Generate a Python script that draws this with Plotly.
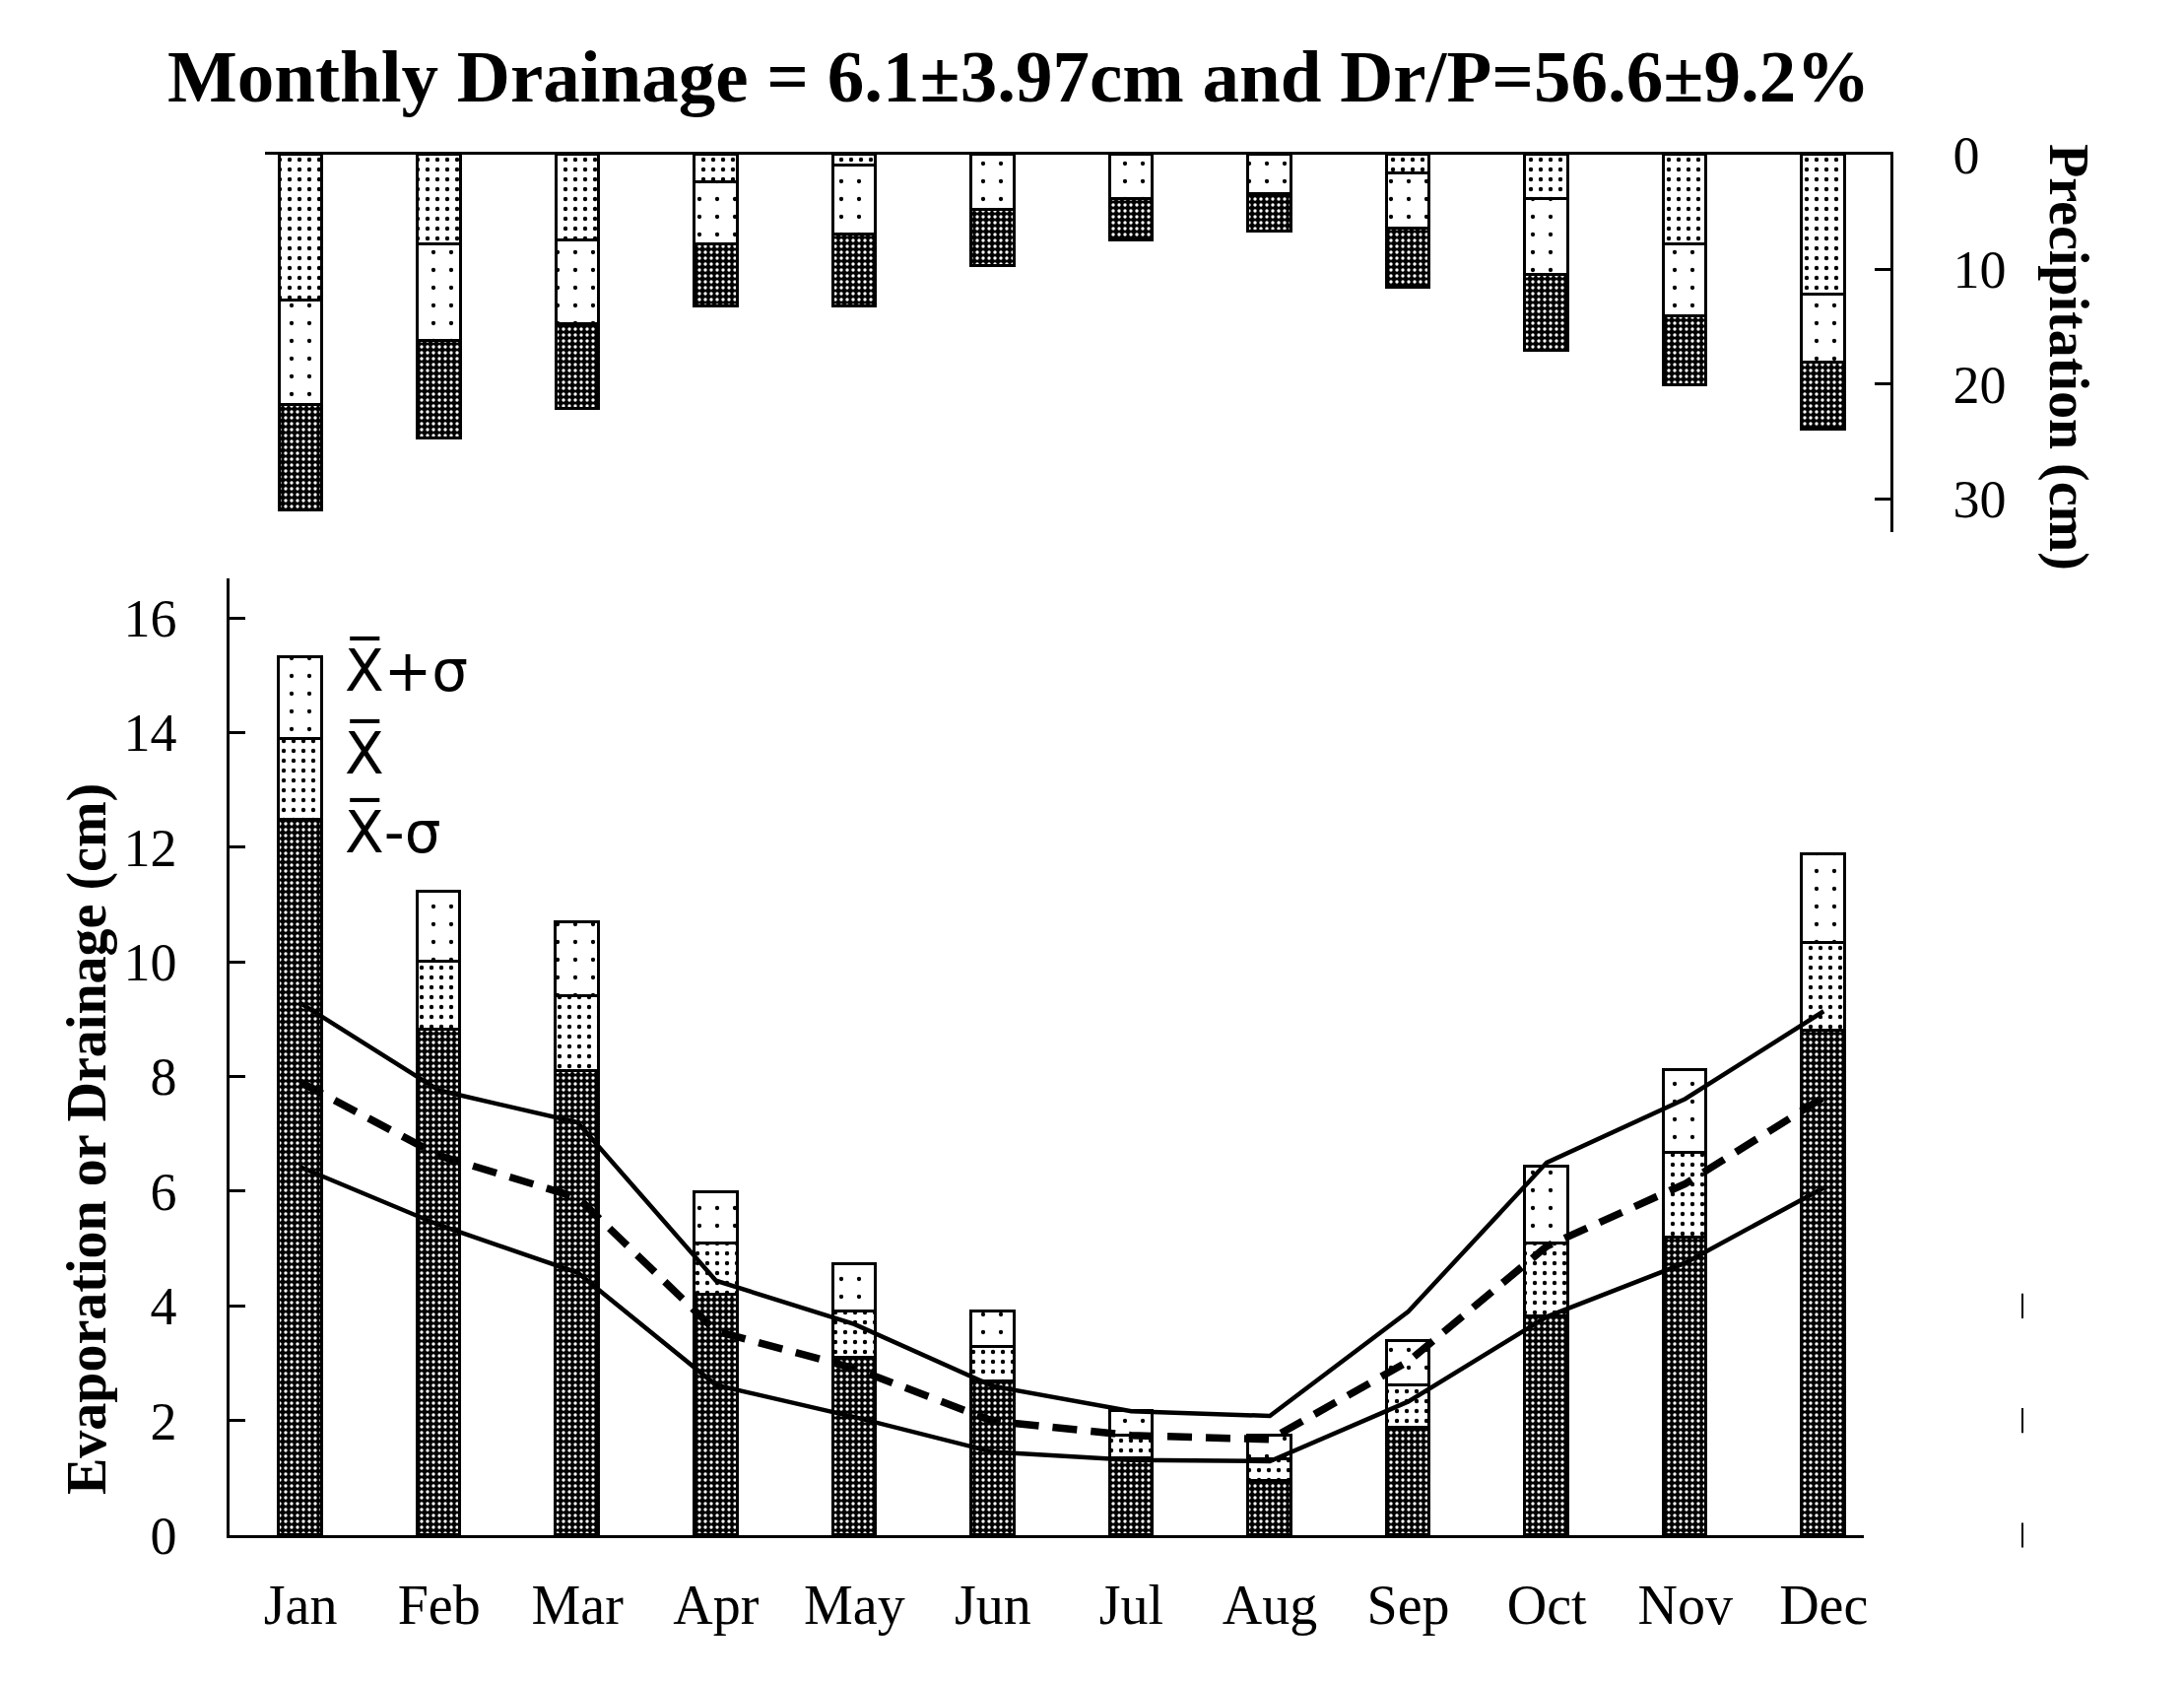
import plotly.graph_objects as go

W, H = 2217, 1706
OFF = 8  # default page body margin in the browser

months = ["Jan", "Feb", "Mar", "Apr", "May", "Jun", "Jul", "Aug", "Sep", "Oct", "Nov", "Dec"]
xpos = list(range(12))

# Bottom panel: evaporation bars (cumulative tops of each segment)
evap_lo = [12.48, 8.82, 8.10, 4.19, 3.10, 2.69, 1.34, 0.95, 1.87, 3.81, 5.19, 8.80]   # X-sigma
evap_mean = [13.89, 10.01, 9.41, 5.09, 3.90, 3.28, 1.73, 1.33, 2.62, 5.09, 6.67, 10.33]  # X
evap_hi = [15.32, 11.22, 10.69, 5.99, 4.73, 3.90, 2.17, 1.74, 3.39, 6.42, 8.12, 11.88]  # X+sigma

# Bottom panel: drainage lines
drain_hi = [9.28, 7.76, 7.20, 4.44, 3.68, 2.60, 2.16, 2.08, 3.90, 6.50, 7.61, 9.14]
drain_mean = [7.90, 6.62, 5.89, 3.56, 2.91, 1.99, 1.74, 1.67, 3.03, 5.04, 6.13, 7.64]
drain_lo = [6.42, 5.41, 4.58, 2.62, 2.06, 1.45, 1.31, 1.29, 2.33, 3.81, 4.75, 6.06]

# Top panel: precipitation (cumulative depths from 0)
prec_1 = [12.7, 7.8, 7.5, 2.4, 0.97, 0.0, 0.0, 0.0, 1.6, 3.9, 7.8, 12.2]
prec_2 = [21.8, 16.2, 14.8, 7.8, 7.0, 4.85, 3.9, 3.4, 6.4, 10.5, 14.1, 18.1]
prec_3 = [31.0, 24.7, 22.2, 13.2, 13.2, 9.7, 7.5, 6.7, 11.6, 17.1, 20.1, 24.0]

ytick_bottom = [0, 2, 4, 6, 8, 10, 12, 14, 16]
ytick_top = [0, 10, 20, 30]

# stray tick marks at the far right of the reference
stray_y = [0, 2, 4]

SERIF = "Liberation Serif"
SANS = "DejaVu Sans"

def diff(a, b):
    return [x - y for x, y in zip(a, b)]

dark = dict(shape=".", bgcolor="black", fgcolor="white", size=6, solidity=0.25, fillmode="replace")
dense = dict(shape=".", bgcolor="white", fgcolor="black", size=10, solidity=0.15, fillmode="replace")
sparse = dict(shape=".", bgcolor="white", fgcolor="black", size=18, solidity=0.045, fillmode="replace")

BW = 0.31
LINE = dict(color="black", width=2.8)

fig = go.Figure()

for vals, pat, col in [(evap_lo, dark, "black"),
                       (diff(evap_mean, evap_lo), dense, "white"),
                       (diff(evap_hi, evap_mean), sparse, "white")]:
    fig.add_trace(go.Bar(x=xpos, y=vals, width=BW, xaxis="x", yaxis="y",
                         marker=dict(color=col, pattern=pat, line=LINE),
                         showlegend=False))

for vals, pat, col in [(prec_1, dense, "white"),
                       (diff(prec_2, prec_1), sparse, "white"),
                       (diff(prec_3, prec_2), dark, "black")]:
    fig.add_trace(go.Bar(x=xpos, y=vals, width=BW, xaxis="x2", yaxis="y2",
                         marker=dict(color=col, pattern=pat, line=LINE),
                         showlegend=False))

fig.add_trace(go.Scatter(x=xpos, y=drain_hi, mode="lines", xaxis="x", yaxis="y",
                         line=dict(color="black", width=4.5), showlegend=False))
fig.add_trace(go.Scatter(x=xpos, y=drain_mean, mode="lines", xaxis="x", yaxis="y",
                         line=dict(color="black", width=7.5, dash="25px,14px"), showlegend=False))
fig.add_trace(go.Scatter(x=xpos, y=drain_lo, mode="lines", xaxis="x", yaxis="y",
                         line=dict(color="black", width=4.5), showlegend=False))

fig.add_trace(go.Scatter(x=[0.5] * len(stray_y), y=stray_y, mode="markers", xaxis="x3", yaxis="y",
                         marker=dict(symbol="line-ns", size=18, line=dict(color="black", width=2)),
                         cliponaxis=False, showlegend=False))

def px_x(p):
    return (p - OFF) / W

def px_y(p):
    return 1 - (p - OFF) / H

fig.update_layout(
    template="none",
    width=W, height=H,
    margin=dict(l=0, r=0, t=0, b=0, pad=0),
    paper_bgcolor="white", plot_bgcolor="rgba(0,0,0,0)",
    barmode="stack", bargap=0,
    font=dict(family=SERIF, color="black"),
    xaxis=dict(domain=[px_x(233), px_x(1892)], range=[-0.513, 11.29], automargin=False,
               tickvals=xpos, ticktext=months, ticks="", showgrid=False, zeroline=False,
               showline=True, linecolor="black", linewidth=2.5,
               tickfont=dict(family=SERIF, size=56), ticklabelstandoff=20),
    yaxis=dict(domain=[px_y(1558), px_y(587)], range=[0, 16.69], automargin=False,
               tickvals=ytick_bottom, ticks="inside", ticklen=16, tickwidth=2.5, tickcolor="black",
               showgrid=False, zeroline=False, showline=True, linecolor="black", linewidth=2.5,
               tickfont=dict(family=SERIF, size=54), ticklabelstandoff=40),
    xaxis2=dict(domain=[px_x(269), px_x(1919)], range=[-0.261, 11.484], anchor="y2", automargin=False,
                side="top", showticklabels=False, ticks="", showgrid=False, zeroline=False,
                showline=True, linecolor="black", linewidth=2.5),
    yaxis2=dict(domain=[px_y(540), px_y(157)], range=[32.9, 0], anchor="x2", side="right",
                automargin=False,
                tickvals=ytick_top, ticks="inside", ticklen=16, tickwidth=2.5, tickcolor="black",
                showgrid=False, zeroline=False, showline=True, linecolor="black", linewidth=2.5,
                tickfont=dict(family=SERIF, size=54), ticklabelstandoff=50),
    xaxis3=dict(domain=[px_x(2043), px_x(2063)], range=[0, 1], anchor="y", automargin=False,
                visible=False, showgrid=False, zeroline=False),
)

ann = []
ann.append(dict(text="<b>Monthly Drainage = 6.1±3.97cm and Dr/P=56.6±9.2%</b>",
                x=px_x(1034), y=px_y(78), xref="paper", yref="paper",
                xanchor="center", yanchor="middle", showarrow=False,
                font=dict(family=SERIF, size=75, color="black")))
ann.append(dict(text="<b>Evaporation or Drainage (cm)</b>",
                x=px_x(88), y=px_y(1156), xref="paper", yref="paper",
                xanchor="center", yanchor="middle", showarrow=False, textangle=-90,
                font=dict(family=SERIF, size=56, color="black")))
ann.append(dict(text="<b>Precipitation (cm)</b>",
                x=px_x(2100), y=px_y(362), xref="paper", yref="paper",
                xanchor="center", yanchor="middle", showarrow=False, textangle=90,
                font=dict(family=SERIF, size=56, color="black")))
for txt, yy in [("X\u0305+σ", 680), ("X\u0305", 764), ("X\u0305-σ", 844)]:
    ann.append(dict(text=txt, x=px_x(348), y=px_y(yy), xref="paper", yref="paper",
                    xanchor="left", yanchor="middle", showarrow=False,
                    font=dict(family=SANS, size=58, color="black")))
fig.update_layout(annotations=ann)

fig.write_html("out.html")
